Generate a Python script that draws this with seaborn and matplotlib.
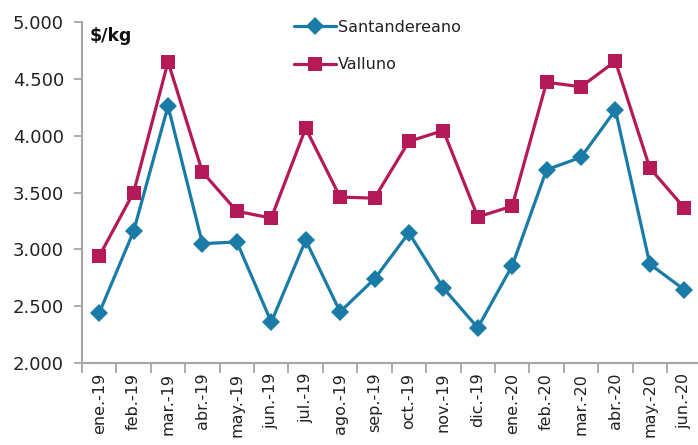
import matplotlib.pyplot as plt
import numpy as np
import pandas as pd
import seaborn as sns
from matplotlib.ticker import FixedLocator, FuncFormatter

# precios mensuales ($/kg)
meses = ["ene.-19", "feb.-19", "mar.-19", "abr.-19", "may.-19", "jun.-19",
         "jul.-19", "ago.-19", "sep.-19", "oct.-19", "nov.-19", "dic.-19",
         "ene.-20", "feb.-20", "mar.-20", "abr.-20", "may.-20", "jun.-20"]
santandereano = [2440, 3160, 4260, 3050, 3065, 2360, 3080, 2450, 2740,
                 3145, 2660, 2310, 2855, 3700, 3810, 4225, 2870, 2645]
valluno = [2940, 3500, 4650, 3680, 3335, 3275, 4065, 3460, 3450,
           3950, 4045, 3285, 3380, 4470, 4430, 4655, 3715, 3365]

df = pd.DataFrame({
    "mes": meses * 2,
    "precio": santandereano + valluno,
    "serie": ["Santandereano"] * len(meses) + ["Valluno"] * len(meses),
})

sns.set_style("ticks")
plt.rcParams["font.family"] = ["DejaVu Sans"]

fig = plt.figure(figsize=(6.98, 4.45), dpi=100)
ax = fig.add_axes([82 / 698, 1 - 363 / 445, 1 - 82 / 698, (363 - 22) / 445])

sns.lineplot(
    data=df, x="mes", y="precio", hue="serie", style="serie",
    palette={"Santandereano": "#1a7ca6", "Valluno": "#b41a58"},
    markers={"Santandereano": "D", "Valluno": "s"},
    dashes=False, linewidth=2.3, markersize=9.5, markeredgewidth=0,
    sort=False, ax=ax,
)

handles, labels = ax.get_legend_handles_labels()
ax.get_legend().remove()
leg = fig.legend(handles, labels, loc="upper left",
                 bbox_to_anchor=(294 / 698, 1 - 20 / 445),
                 frameon=False, fontsize=11.5, handlelength=2.6,
                 handletextpad=0.15, labelspacing=1.4, borderpad=0,
                 borderaxespad=0, labelcolor="#222222")

ax.set_ylim(2000, 5000)
ax.set_xlim(-0.5, len(meses) - 0.6)
ax.set_yticks(np.arange(2000, 5001, 500))
ax.yaxis.set_major_formatter(FuncFormatter(lambda v, p: f"{v:,.0f}".replace(",", ".")))

ax.set_xticks(range(len(meses)))
ax.set_xticklabels(meses, rotation=90, fontsize=11.5)
ax.xaxis.set_minor_locator(FixedLocator(np.arange(-0.5, len(meses) - 0.5, 1)))
ax.tick_params(axis="x", which="major", length=0, pad=7, labelcolor="#222222")
ax.tick_params(axis="x", which="minor", length=7, width=1.3, color="#a6a6a6")
ax.tick_params(axis="y", length=6, width=1.3, color="#a6a6a6", labelsize=13,
               pad=7, labelcolor="#222222")

for s in ["top", "right"]:
    ax.spines[s].set_visible(False)
for s in ["left", "bottom"]:
    ax.spines[s].set_color("#a6a6a6")
    ax.spines[s].set_linewidth(1.5)

ax.set_xlabel("")
ax.set_ylabel("")
ax.text(0.012, 0.985, "$/kg", transform=ax.transAxes, va="top", ha="left",
        fontsize=12.5, fontweight="bold", color="#111111")

fig.savefig("out.png", dpi=100)
